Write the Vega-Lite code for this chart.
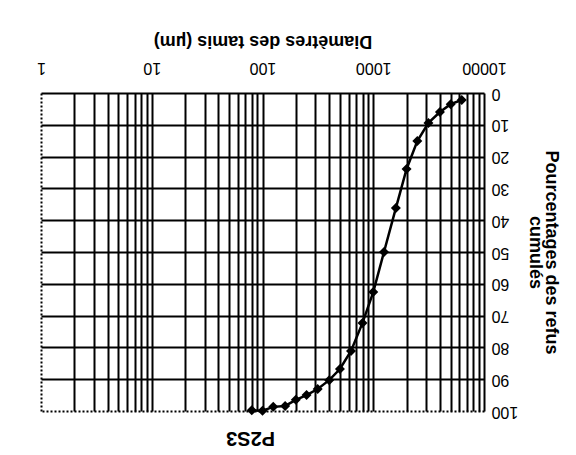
{
  "$schema": "https://vega.github.io/schema/vega-lite/v6.json",
  "autosize": {"type": "none"},
  "width": 443,
  "height": 318,
  "padding": {"left": 41, "top": 93, "right": 92, "bottom": 44},
  "background": "white",
  "config": {"view": {"stroke": null}, "font": "Liberation Sans"},
  "title": {"text": "P2S3", "orient": "bottom", "angle": 180, "fontSize": 20, "fontWeight": "bold", "font": "Liberation Sans", "color": "black", "offset": 9, "baseline": "bottom", "dx": 12},
  "data": {"values": [
    {"d": 6300, "p": 2.2},
    {"d": 5000, "p": 3.5},
    {"d": 4000, "p": 6.0},
    {"d": 3150, "p": 9.4},
    {"d": 2500, "p": 15.1},
    {"d": 2000, "p": 23.9},
    {"d": 1600, "p": 36.2},
    {"d": 1250, "p": 50.0},
    {"d": 1000, "p": 62.6},
    {"d": 800, "p": 72.3},
    {"d": 630, "p": 81.1},
    {"d": 500, "p": 86.8},
    {"d": 400, "p": 90.3},
    {"d": 315, "p": 93.1},
    {"d": 250, "p": 95.0},
    {"d": 200, "p": 96.5},
    {"d": 160, "p": 98.4},
    {"d": 125, "p": 98.7},
    {"d": 100, "p": 99.9},
    {"d": 80, "p": 99.8}
  ]},
  "encoding": {
    "x": {"field": "d", "type": "quantitative",
      "scale": {"type": "log", "domain": [1, 10000]},
      "axis": {
        "orient": "top",
        "values": [1,2,3,4,5,6,7,8,9,10,20,30,40,50,60,70,80,90,100,200,300,400,500,600,700,800,900,1000,2000,3000,4000,5000,6000,7000,8000,9000,10000],
        "format": "d",
        "labelExpr": "(datum.value==1||datum.value==10||datum.value==100||datum.value==1000||datum.value==10000) ? datum.label : ''",
        "labelAngle": 180, "labelAlign": "center", "labelBaseline": "top", "labelPadding": 18,
        "labelFlush": false, "labelOverlap": false,
        "labelFontSize": 16, "labelColor": "black", "labelFont": "Liberation Sans",
        "ticks": false, "domain": false,
        "grid": true, "gridColor": "black", "gridOpacity": 1, "gridWidth": 2,
        "gridDash": {"condition": {"test": "datum.value == 1", "value": [2, 2]}, "value": []},
        "title": "Diamètres des tamis (µm)",
        "titleAngle": 180, "titleBaseline": "top", "titlePadding": 10,
        "titleFontSize": 18, "titleFontWeight": "bold", "titleColor": "black", "titleFont": "Liberation Sans"
      }
    },
    "y": {"field": "p", "type": "quantitative",
      "scale": {"domain": [0, 100], "reverse": true},
      "axis": {
        "orient": "right",
        "values": [0,10,20,30,40,50,60,70,80,90,100],
        "labelAngle": 180, "labelAlign": "right", "labelBaseline": "middle", "labelPadding": 7,
        "labelFlush": false, "labelOverlap": false,
        "labelFontSize": 16, "labelColor": "black", "labelFont": "Liberation Sans",
        "ticks": false, "domain": false,
        "grid": true, "gridColor": "black", "gridOpacity": 1, "gridWidth": 2,
        "gridDash": {"condition": {"test": "datum.value == 100", "value": [2, 2]}, "value": []},
        "title": ["Pourcentages des refus", "cumulés"],
        "titleAngle": 90, "titlePadding": 8, "titleLineHeight": 16,
        "titleFontSize": 18, "titleFontWeight": "bold", "titleColor": "black", "titleFont": "Liberation Sans"
      }
    }
  },
  "layer": [
    {"mark": {"type": "line", "color": "black", "strokeWidth": 2.5}},
    {"mark": {"type": "point", "shape": "diamond", "filled": true, "color": "black", "size": 100, "opacity": 1}}
  ]
}
